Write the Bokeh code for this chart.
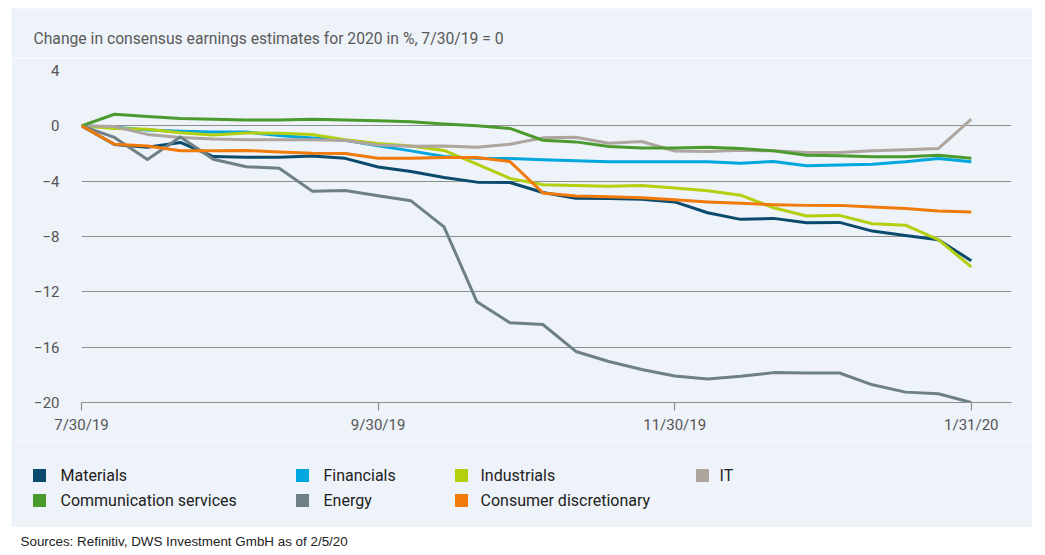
from bokeh.plotting import figure
from bokeh.layouts import column
from bokeh.models import Range1d, FixedTicker
from bokeh.core.properties import value
from bokeh.embed import file_html
from bokeh.resources import INLINE

# ---------------- data ----------------
title_text = "Change in consensus earnings estimates for 2020 in %, 7/30/19 = 0"
source_text = "Sources: Refinitiv, DWS Investment GmbH as of 2/5/20"

tick_positions = [0, 9, 18, 27]
tick_labels = ["7/30/19", "9/30/19", "11/30/19", "1/31/20"]
y_ticks = [4, 0, -4, -8, -12, -16, -20]

materials = [0, -1.35, -1.55, -1.2, -2.22, -2.28, -2.28, -2.18, -2.35, -2.98,
             -3.3, -3.73, -4.07, -4.1, -4.82, -5.23, -5.25, -5.3, -5.5, -6.28,
             -6.76, -6.69, -7.01, -6.98, -7.61, -7.93, -8.24, -9.75]
financials = [0, -0.1, -0.3, -0.4, -0.45, -0.45, -0.7, -0.88, -1.04, -1.45,
              -1.81, -2.22, -2.34, -2.36, -2.46, -2.53, -2.6, -2.6, -2.6, -2.6,
              -2.7, -2.58, -2.89, -2.84, -2.77, -2.6, -2.36, -2.6]
industrials = [0, -0.19, -0.24, -0.5, -0.66, -0.52, -0.53, -0.63, -1.0, -1.27,
               -1.45, -1.78, -2.77, -3.8, -4.26, -4.31, -4.36, -4.31, -4.5, -4.7,
               -5.01, -5.92, -6.52, -6.47, -7.08, -7.18, -8.22, -10.2]
it = [0, -0.05, -0.62, -0.84, -0.96, -1.0, -1.01, -1.0, -1.06, -1.38,
      -1.47, -1.45, -1.55, -1.33, -0.87, -0.82, -1.26, -1.13, -1.82, -1.86,
      -1.76, -1.81, -1.93, -1.93, -1.81, -1.73, -1.64, 0.48]
communication = [0, 0.84, 0.67, 0.53, 0.48, 0.43, 0.43, 0.48, 0.43, 0.37,
                 0.29, 0.14, 0.0, -0.19, -1.04, -1.16, -1.49, -1.61, -1.61, -1.54,
                 -1.64, -1.81, -2.12, -2.17, -2.24, -2.24, -2.12, -2.34]
energy = [0, -0.84, -2.43, -0.8, -2.41, -2.96, -3.06, -4.72, -4.67, -5.06,
          -5.42, -7.3, -12.72, -14.24, -14.36, -16.31, -17.04, -17.61, -18.09, -18.3,
          -18.11, -17.84, -17.87, -17.87, -18.72, -19.25, -19.37, -20.0]
consumer = [0, -1.33, -1.45, -1.8, -1.81, -1.78, -1.9, -1.98, -2.0, -2.34,
            -2.34, -2.29, -2.29, -2.58, -4.85, -5.08, -5.13, -5.2, -5.35, -5.5,
            -5.6, -5.7, -5.75, -5.75, -5.87, -5.97, -6.16, -6.23]

series_names = ["Materials", "Financials", "Industrials", "IT",
                "Communication services", "Energy", "Consumer discretionary"]
series_values = [materials, financials, industrials, it, communication, energy, consumer]
series_colors = ["#0A4B6D", "#00A6DE", "#B3CF0E", "#AEA59F",
                 "#4A9A2E", "#6D8086", "#F07A0A"]

# ---------------- style ----------------
PANEL = "#EEF2F9"
FONT = "Roboto"
W = 1021


def bare(fig, fill):
    fig.background_fill_color = fill
    fig.border_fill_color = fill
    fig.outline_line_color = None
    fig.grid.visible = False
    return fig


# header with title
hdr = figure(width=W, height=50, x_range=Range1d(0, W), y_range=Range1d(0, 50),
             x_axis_location=None, y_axis_location=None, min_border=0,
             frame_align=False, output_backend="svg", toolbar_location=None,
             margin=(8, 0, 0, 11))
bare(hdr, PANEL)
hdr.text(x=[22], y=[20.5], text=[title_text], text_font=value(FONT),
         text_font_size="15.7px", text_color="#5a5a5a", text_baseline="alphabetic")

# main chart
n = len(materials)
xs = list(range(n))
p = figure(width=W, height=382, x_range=Range1d(0, 28.22), y_range=Range1d(-20, 4),
           min_border_left=70, min_border_right=21, min_border_top=12,
           min_border_bottom=38, frame_align=False, output_backend="svg",
           toolbar_location=None, margin=(0, 0, 0, 11))
p.background_fill_color = PANEL
p.border_fill_color = PANEL
p.outline_line_color = None

p.xgrid.visible = False
p.ygrid.ticker = FixedTicker(ticks=y_ticks)
p.ygrid.grid_line_color = "#8E8E8E"
p.ygrid.grid_line_width = 1.2

p.yaxis.ticker = FixedTicker(ticks=y_ticks)
p.yaxis.major_label_overrides = {t: (str(t) if t >= 0 else "\u2212" + str(-t)) for t in y_ticks}
p.yaxis.axis_line_color = None
p.yaxis.major_tick_line_color = None
p.yaxis.minor_tick_line_color = None
p.yaxis.major_tick_out = 0
p.yaxis.major_label_standoff = 22
p.yaxis.major_label_text_font = FONT
p.yaxis.major_label_text_font_size = "15px"
p.yaxis.major_label_text_color = "#555555"

p.xaxis.ticker = FixedTicker(ticks=tick_positions)
p.xaxis.major_label_overrides = dict(zip(tick_positions, tick_labels))
p.xaxis.axis_line_color = "#8E8E8E"
p.xaxis.axis_line_width = 1.2
p.xaxis.major_tick_line_color = "#8E8E8E"
p.xaxis.major_tick_line_width = 1.2
p.xaxis.major_tick_in = 0
p.xaxis.major_tick_out = 8
p.xaxis.minor_tick_line_color = None
p.xaxis.major_label_standoff = 5
p.xaxis.major_label_text_font = FONT
p.xaxis.major_label_text_font_size = "15px"
p.xaxis.major_label_text_color = "#555555"

for vals, col in zip(series_values, series_colors):
    p.line(xs, vals, line_color=col, line_width=3, line_join="round")

# legend area
LH = 87
leg = figure(width=W, height=LH, x_range=Range1d(0, W), y_range=Range1d(0, LH),
             x_axis_location=None, y_axis_location=None, min_border=0,
             frame_align=False, output_backend="svg", toolbar_location=None,
             margin=(0, 0, 0, 11))
bare(leg, PANEL)
col_sq = [28, 291, 450, 691]
col_tx = [49, 312, 469, 708]
row_y = [52, 27]
sq_x, sq_y, tx_x = [], [], []
for k in range(len(series_names)):
    r, c = divmod(k, 4)
    sq_x.append(col_sq[c])
    sq_y.append(row_y[r])
    tx_x.append(col_tx[c])
leg.rect(x=sq_x, y=sq_y, width=13, height=13, fill_color=series_colors, line_color=None)
leg.text(x=tx_x, y=sq_y, text=series_names, text_font=value(FONT), text_font_size="16px",
         text_color="#222222", text_baseline="middle")

# sources
SH = 22
src = figure(width=1029, height=SH, x_range=Range1d(0, 1029), y_range=Range1d(0, SH),
             x_axis_location=None, y_axis_location=None, min_border=0,
             frame_align=False, output_backend="svg", toolbar_location=None,
             margin=(0, 0, 0, 8))
bare(src, "#FFFFFF")
src.text(x=[12], y=[8], text=[source_text], text_font=value("Liberation Sans"),
         text_font_size="13.4px", text_color="#222222", text_baseline="middle")

layout = column(hdr, p, leg, src, spacing=0)
open("out.html", "w").write(file_html(layout, INLINE))
